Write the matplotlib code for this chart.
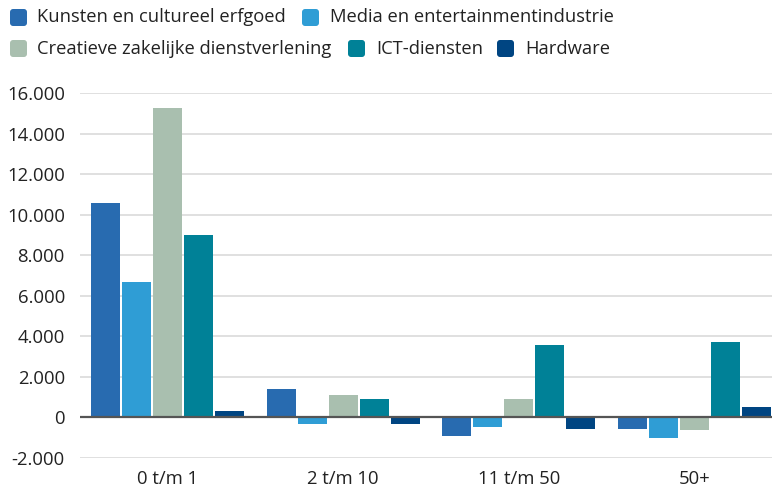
import matplotlib
matplotlib.use("Agg")
import matplotlib.pyplot as plt
from matplotlib.patches import FancyBboxPatch
import numpy as np

plt.rcParams['font.family'] = ['Open Sans', 'DejaVu Sans']

categories = ["0 t/m 1", "2 t/m 10", "11 t/m 50", "50+"]
series_names = ["Kunsten en cultureel erfgoed", "Media en entertainmentindustrie",
                "Creatieve zakelijke dienstverlening", "ICT-diensten", "Hardware"]
kunsten = [10600, 1420, -900, -560]
media = [6700, -310, -460, -1000]
creatief = [15270, 1120, 920, -610]
ict = [9000, 920, 3590, 3740]
hardware = [310, -310, -560, 530]
series_values = [kunsten, media, creatief, ict, hardware]
colors = ["#286bb0", "#2f9dd5", "#a9bfaf", "#008197", "#004582"]
yticks = [-2000, 0, 2000, 4000, 6000, 8000, 10000, 12000, 14000, 16000]
ytick_labels = ["-2.000", "0", "2.000", "4.000", "6.000", "8.000", "10.000", "12.000", "14.000", "16.000"]

W, H = 772, 490
fig = plt.figure(figsize=(W/100, H/100), dpi=100)
ax_left, ax_right = 80, 782
ax_top, ax_bottom = 93.3, 457.8
ax = fig.add_axes([ax_left/W, 1 - ax_bottom/H, (ax_right-ax_left)/W, (ax_bottom-ax_top)/H])

x = np.arange(len(categories))
step = 0.1766
bw = 0.165
for i, (vals, c) in enumerate(zip(series_values, colors)):
    ax.bar(x + (i-2)*step, vals, width=bw, color=c, zorder=3)

ax.set_xlim(-0.5, 3.5)
ax.set_ylim(-2000, 16000)
ax.set_yticks(yticks)
ax.set_yticklabels(ytick_labels)
ax.set_xticks(x)
ax.set_xticklabels(categories)
ax.grid(axis='y', color='#e0e0e0', linewidth=1.4, zorder=0)
ax.axhline(0, color='#555555', linewidth=1.6, zorder=4)
for s in ax.spines.values():
    s.set_visible(False)
ax.tick_params(axis='y', length=0, pad=10.8, labelsize=13.3, labelcolor='#222222')
ax.tick_params(axis='x', length=0, pad=8.5, labelsize=13.3, labelcolor='#222222')

# legend (flow layout)
legend_items = [
    (0, 10, 37, 17.5),
    (1, 302, 330, 17.5),
    (2, 10, 37, 48.5),
    (3, 348, 376, 48.5),
    (4, 497, 525, 48.5),
]
for idx, sx, tx, cy in legend_items:
    size = 17
    p = FancyBboxPatch(((sx)/W, 1 - (cy + size/2)/H), size/W, size/H,
                       boxstyle="round,pad=0,rounding_size=0.004",
                       transform=fig.transFigure, facecolor=colors[idx],
                       edgecolor='none', mutation_aspect=W/H)
    fig.patches.append(p)
    fig.text(tx/W, 1 - cy/H, series_names[idx], fontsize=13.2, color='#222222',
             va='center', ha='left')

fig.savefig("out.png", dpi=100)
